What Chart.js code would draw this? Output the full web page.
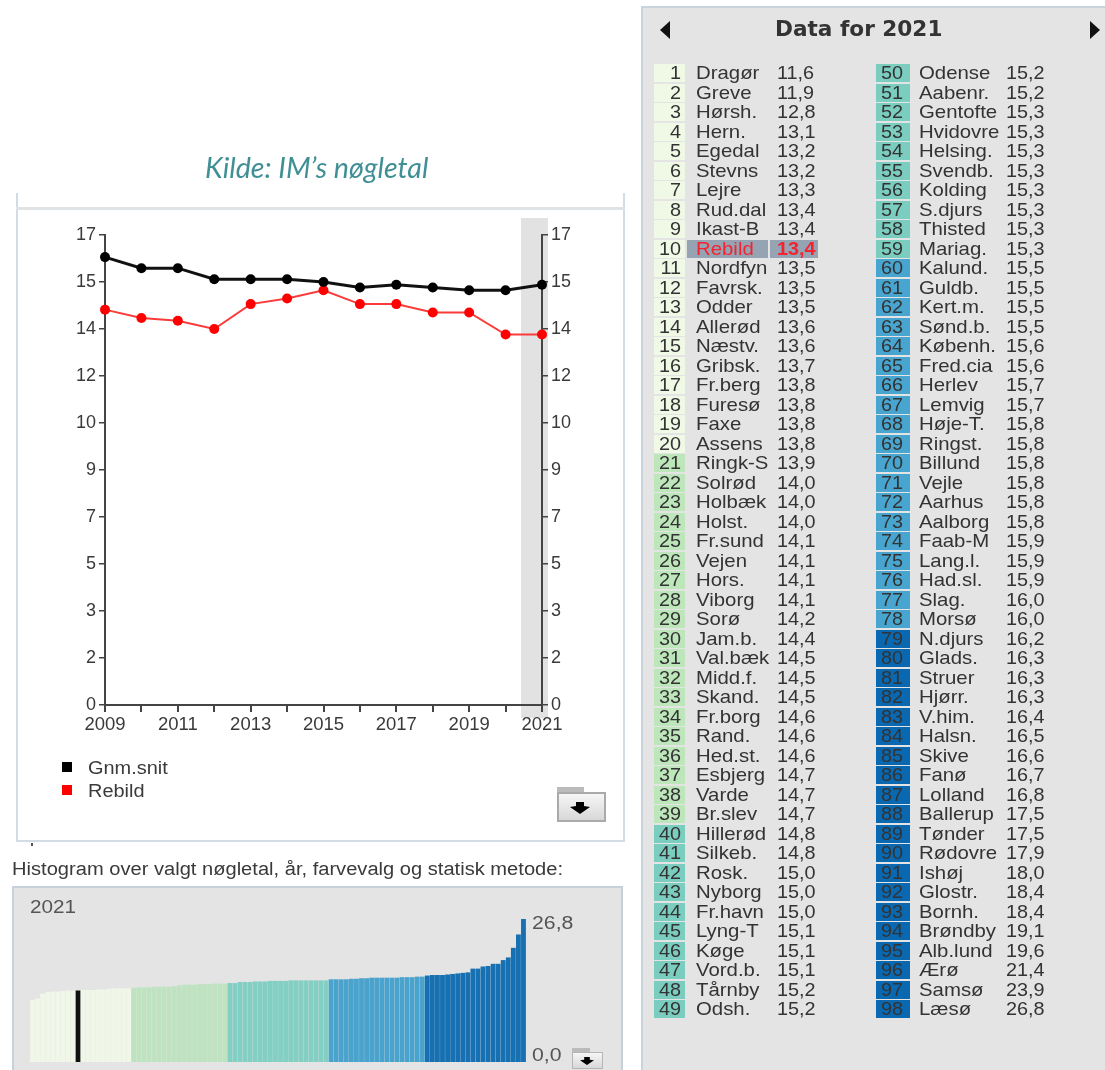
<!DOCTYPE html>
<html><head><meta charset="utf-8">
<script src="https://cdn.jsdelivr.net/npm/chart.js@4"></script>
<style>
html,body{margin:0;padding:0;background:#fff;width:1105px;height:1070px;overflow:hidden}
#page{position:absolute;left:0;top:0;width:1105px;height:1070px;overflow:hidden;font-family:"Liberation Sans",Arial,sans-serif;color:#3a3a3a;filter:blur(0.55px)}
.a{position:absolute;white-space:nowrap}
.sx{transform-origin:left center}
canvas{position:absolute}
.t{position:absolute;white-space:nowrap;font-size:18.2px;line-height:20px;height:20px;color:#333}
.folder{position:absolute;background:linear-gradient(#f6f6f6,#d8d8d8);border:2px solid #aaa;box-sizing:border-box}
.tab{position:absolute;background:#bbb}
.arrow{position:absolute;background:#000;clip-path:polygon(30% 0,70% 0,70% 33%,100% 42%,50% 100%,0 42%,30% 33%)}
</style></head><body>
<div id="page">
<div class="a" style="left:205px;top:150px;font:italic 28.6px Lato,sans-serif;color:#3f8f95">Kilde: IM’s nøgletal</div>
<div class="a" style="left:16px;top:193px;width:2px;height:648px;background:#d3dbe4"></div>
<div class="a" style="left:623px;top:193px;width:2px;height:648px;background:#d3dbe4"></div>
<div class="a" style="left:16px;top:207px;width:609px;height:3px;background:#e0e3e6"></div>
<div class="a" style="left:16px;top:840px;width:609px;height:2px;background:#d3dbe4"></div>
<canvas id="line" width="560" height="560" style="left:40px;top:190px;width:560px;height:560px"></canvas>
<div class="a" style="left:62px;top:762px;width:10px;height:10px;background:#000"></div>
<div class="a" style="left:62px;top:785px;width:10px;height:10px;background:#f00"></div>
<div class="a sx" style="left:88px;top:758px;font-size:17.5px;transform:scaleX(1.14)">Gnm.snit</div>
<div class="a sx" style="left:88px;top:781px;font-size:17.5px;transform:scaleX(1.14)">Rebild</div>
<div class="tab" style="left:557px;top:787px;width:27px;height:7px"></div>
<div class="folder" style="left:557px;top:792px;width:49px;height:30px"></div>
<div class="arrow" style="left:570px;top:802px;width:20px;height:12px"></div>
<div class="a" style="left:31px;top:843px;width:2px;height:3px;background:#555"></div>
<div class="a sx" style="left:12px;top:859px;font-size:17.6px;transform:scaleX(1.143)">Histogram over valgt nøgletal, år, farvevalg og statisk metode:</div>
<div class="a" style="left:12px;top:886px;width:611px;height:190px;background:#e4e4e4;border:2px solid #c6d1dc;box-sizing:border-box"></div>
<div class="a sx" style="left:30px;top:897px;font-size:18px;color:#555;transform:scaleX(1.15)">2021</div>
<canvas id="hist" width="496" height="143" style="left:30px;top:919px;width:496px;height:143px"></canvas>
<div class="a sx" style="left:532px;top:913px;font-size:18px;color:#555;transform:scaleX(1.18)">26,8</div>
<div class="a sx" style="left:532px;top:1045px;font-size:18px;color:#555;transform:scaleX(1.18)">0,0</div>
<div class="tab" style="left:572px;top:1048px;width:18px;height:5px"></div>
<div class="folder" style="left:572px;top:1052px;width:31px;height:17px;border-width:1.5px;border-color:#b5b5b5"></div>
<div class="arrow" style="left:580px;top:1057px;width:14px;height:8px"></div>
<div id="panel" class="a" style="left:641px;top:6px;width:470px;height:1070px;background:#e4e4e4;border:2px solid #c9d3dd;box-sizing:border-box"></div>
<div class="a" style="left:775px;top:16px;font:bold 21.6px 'DejaVu Sans',sans-serif;color:#333">Data for 2021</div>
<div class="a" style="left:660px;top:21px;width:0;height:0;border:9px solid transparent;border-left:0;border-right:10px solid #111"></div>
<div class="a" style="left:1090px;top:21px;width:0;height:0;border:9px solid transparent;border-right:0;border-left:10px solid #111"></div>
<div id="tbl"></div>
</div>
<script>
const years=[2009,2010,2011,2012,2013,2014,2015,2016,2017,2018,2019,2020,2021];
const gnmSnit=[16.2,15.8,15.8,15.4,15.4,15.4,15.3,15.1,15.2,15.1,15.0,15.0,15.2];
const rebild=[14.3,14.0,13.9,13.6,14.5,14.7,15.0,14.5,14.5,14.2,14.2,13.4,13.4];
const names=["Dragør","Greve","Hørsh.","Hern.","Egedal","Stevns","Lejre","Rud.dal","Ikast-B","Rebild","Nordfyn","Favrsk.","Odder","Allerød","Næstv.","Gribsk.","Fr.berg","Furesø","Faxe","Assens","Ringk-S","Solrød","Holbæk","Holst.","Fr.sund","Vejen","Hors.","Viborg","Sorø","Jam.b.","Val.bæk","Midd.f.","Skand.","Fr.borg","Rand.","Hed.st.","Esbjerg","Varde","Br.slev","Hillerød","Silkeb.","Rosk.","Nyborg","Fr.havn","Lyng-T","Køge","Vord.b.","Tårnby","Odsh.","Odense","Aabenr.","Gentofte","Hvidovre","Helsing.","Svendb.","Kolding","S.djurs","Thisted","Mariag.","Kalund.","Guldb.","Kert.m.","Sønd.b.","Københ.","Fred.cia","Herlev","Lemvig","Høje-T.","Ringst.","Billund","Vejle","Aarhus","Aalborg","Faab-M","Lang.l.","Had.sl.","Slag.","Morsø","N.djurs","Glads.","Struer","Hjørr.","V.him.","Halsn.","Skive","Fanø","Lolland","Ballerup","Tønder","Rødovre","Ishøj","Glostr.","Bornh.","Brøndby","Alb.lund","Ærø","Samsø","Læsø"];
const values=[11.6,11.9,12.8,13.1,13.2,13.2,13.3,13.4,13.4,13.4,13.5,13.5,13.5,13.6,13.6,13.7,13.8,13.8,13.8,13.8,13.9,14.0,14.0,14.0,14.1,14.1,14.1,14.1,14.2,14.4,14.5,14.5,14.5,14.6,14.6,14.6,14.7,14.7,14.7,14.8,14.8,15.0,15.0,15.0,15.1,15.1,15.1,15.2,15.2,15.2,15.2,15.3,15.3,15.3,15.3,15.3,15.3,15.3,15.3,15.5,15.5,15.5,15.5,15.6,15.6,15.7,15.7,15.8,15.8,15.8,15.8,15.8,15.8,15.9,15.9,15.9,16.0,16.0,16.2,16.3,16.3,16.3,16.4,16.5,16.6,16.7,16.8,17.5,17.5,17.9,18.0,18.4,18.4,19.1,19.6,21.4,23.9,26.8];
const binEnds=[20,39,59,78,98];
const binColors=["#f0f6e8","#bfe3c0","#84cfc4","#4aa3cd","#1670b2"];
const cellColors=["#f0f8e6","#bde6bb","#7bcdc0","#48a5cf","#0a68b0"];
const highlight="Rebild";
const binOf=i=>binEnds.findIndex(e=>i<e);
const comma=v=>v.toFixed(1).replace(".",",");

/* table */
const tbl=document.getElementById("tbl");
function put(cls,x,y,w,txt,st){const d=document.createElement("div");d.className=cls;d.style.cssText=`left:${x}px;top:${y}px;`+(w?`width:${w}px;`:"")+(st||"");d.textContent=txt;tbl.appendChild(d);}
names.forEach((n,i)=>{
  const c=i<49?0:1, r=c?i-49:i;
  const yc=73+r*19.5, top=yc-10;
  const cell=c?[876,34]:[654,31], nameX=c?919:696, valX=c?1006:777;
  put("a",cell[0],yc-9,cell[1],"",`height:18px;background:${cellColors[binOf(i)]}`);
  put("t",cell[0],top,cell[1]-(c?7:4),String(i+1),"text-align:right;transform-origin:right center;transform:scaleX(1.09)");
  if(n===highlight){
    put("a",687,yc-9,81,"","height:18px;background:#95a3b3");
    put("a",770,yc-9,48,"","height:18px;background:#95a3b3");
  }
  put("t",nameX,top,0,n,"transform-origin:left center;transform:scaleX(1.12);"+(n===highlight?"color:#f5232f":""));
  put("t",valX,top,0,comma(values[i]),"transform-origin:left center;transform:scaleX(1.09);"+(n===highlight?"color:#f5232f;font-weight:bold":""));
});

/* line chart */
const bandPlugin={id:"band",beforeDraw(ch){
  const {ctx,scales:{x}}=ch, px=x.getPixelForValue(years.length-1);
  ctx.save();ctx.fillStyle="#e2e2e2";ctx.fillRect(px-21,28,27,500);ctx.restore();
}};
const axisCol="#444";
const tickFont={family:"Liberation Sans",size:18};
const yTicks={color:"#3a3a3a",font:tickFont,padding:3,stepSize:1.7,autoSkip:false,maxTicksLimit:20,callback:v=>Math.round(v)};
new Chart(document.getElementById("line"),{type:"line",plugins:[bandPlugin],
  data:{labels:years,datasets:[
    {label:"Gnm.snit",data:gnmSnit,borderColor:"#111",backgroundColor:"#000",borderWidth:3,pointRadius:5,pointBackgroundColor:"#000",pointBorderWidth:0,tension:0,clip:false},
    {label:"Rebild",data:rebild,borderColor:"#fb3a3a",backgroundColor:"#f00",borderWidth:2,pointRadius:5,pointBackgroundColor:"#f00",pointBorderWidth:0,tension:0,clip:false}
  ]},
  options:{responsive:false,animation:false,events:[],layout:{padding:{top:45}},
    plugins:{legend:{display:false},tooltip:{enabled:false},title:{display:false}},
    scales:{
      x:{type:"category",offset:false,grid:{display:true,drawOnChartArea:false,tickLength:7,color:axisCol,tickColor:axisCol,lineWidth:2},border:{color:axisCol,width:2},
        ticks:{color:"#3a3a3a",font:{family:"Liberation Sans",size:18.5},padding:2,autoSkip:false,maxRotation:0,callback(v,i){return i%2===0?years[i]:"";}},
        afterFit(s){s.height=45;}},
      y:{position:"left",min:0,max:17,grid:{display:true,drawOnChartArea:false,tickLength:6,color:axisCol,lineWidth:1.5},border:{color:axisCol,width:2},ticks:yTicks,afterFit(s){s.width=65;}},
      y2:{position:"right",min:0,max:17,grid:{display:true,drawOnChartArea:false,tickLength:6,color:axisCol,lineWidth:1.5},border:{color:axisCol,width:2},ticks:yTicks,afterFit(s){s.width=58;}}
    }}
});

/* histogram */
new Chart(document.getElementById("hist"),{type:"bar",
  data:{labels:names,datasets:[{data:values,barPercentage:0.96,categoryPercentage:1,
    backgroundColor:names.map((n,i)=>n===highlight?"#111":binColors[binOf(i)])}]},
  options:{responsive:false,animation:false,events:[],layout:{padding:0},
    plugins:{legend:{display:false},tooltip:{enabled:false}},
    scales:{x:{display:false},y:{display:false,min:0,max:26.8}}}
});
</script>
</body></html>
